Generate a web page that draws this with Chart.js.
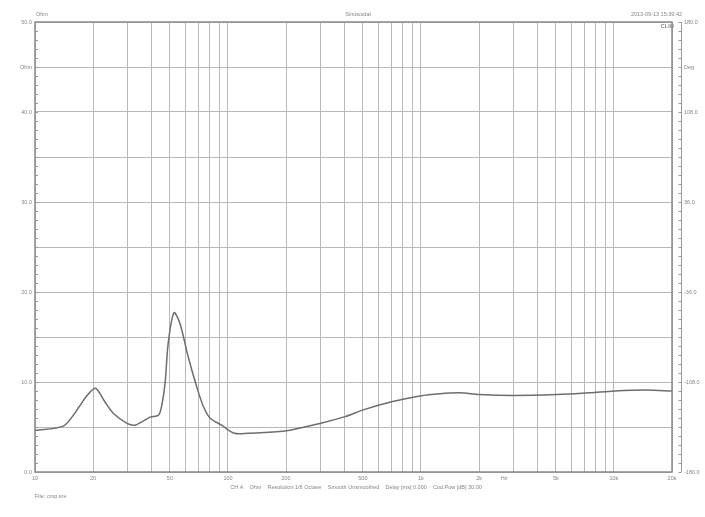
<!DOCTYPE html>
<html>
<head>
<meta charset="utf-8">
<script src="https://cdn.jsdelivr.net/npm/chart.js@4.4.0/dist/chart.umd.min.js"></script>
<style>
  body { margin: 0; background: #fff; }
  #wrap { width: 705px; height: 517px; }
</style>
</head>
<body>
<div id="wrap"><canvas id="impChart" width="705" height="517"></canvas></div>
<script>
// impedance curve (Hz, Ohm)
const freqs = [10, 14, 15.8, 17, 18.8, 20.6, 23, 25.5, 30, 33, 36, 39.5, 43.6, 45.3, 47.2, 49, 52.5, 56.4, 62.2, 68.8, 74.5, 80.7, 92.7, 108, 127, 197, 300, 404, 502, 705, 988, 1253, 1592, 2005, 3006, 5044, 7510, 10100, 14760, 20000];
const ohms  = [4.6, 5.1, 6.3, 7.3, 8.6, 9.3, 7.8, 6.5, 5.4, 5.2, 5.6, 6.1, 6.3, 7.3, 9.85, 14.3, 17.7, 16.5, 12.8, 9.5, 7.3, 6.0, 5.2, 4.3, 4.3, 4.55, 5.4, 6.15, 6.9, 7.8, 8.45, 8.7, 8.8, 8.6, 8.5, 8.6, 8.8, 9.0, 9.1, 9.0];

const gridFreqs = [10, 20, 30, 40, 50, 60, 70, 80, 90, 100, 200, 300, 400, 500, 600, 700, 800, 900,
  1000, 2000, 2700, 3000, 4000, 5000, 6000, 7000, 8000, 9000, 10000, 20000];
const freqLabels = { 10: '10', 20: '20', 50: '50', 100: '100', 200: '200', 500: '500',
  1000: '1k', 2000: '2k', 2700: 'Hz', 5000: '5k', 10000: '10k', 20000: '20k' };
const ohmTicks = [0, 5, 10, 15, 20, 25, 30, 35, 40, 45, 50];
const degTicks = [-180, -108, -36, 36, 108, 144, 180];

const txtColor = '#858585';
const gridColor = '#b8b8b8';
const tickFont = { family: 'Liberation Sans', size: 5.5 };

const decor = {
  id: 'decor',
  afterDraw(chart) {
    const { ctx, chartArea: a } = chart;
    const y = chart.scales.y, y2 = chart.scales.y2;
    ctx.save();
    ctx.strokeStyle = '#8a8a8a';
    ctx.lineWidth = 1.5;
    ctx.strokeRect(a.left, a.top, a.right - a.left, a.bottom - a.top);

    // minor ticks on the Ohm axis
    ctx.lineWidth = 1;
    ctx.strokeStyle = '#999';
    ctx.beginPath();
    for (let v = 0; v <= 50; v++) {
      const py = Math.round(y.getPixelForValue(v)) + 0.5;
      ctx.moveTo(a.left, py);
      ctx.lineTo(a.left + 3, py);
    }
    // phase axis, offset to the right of the frame
    const ax = a.right + 9.5;
    ctx.moveTo(ax, a.top);
    ctx.lineTo(ax, a.bottom);
    for (let i = 0; i <= 50; i++) {
      const py = Math.round(y2.getPixelForValue(-180 + i * 7.2)) + 0.5;
      ctx.moveTo(ax - 3, py);
      ctx.lineTo(ax, py);
    }
    ctx.stroke();

    ctx.fillStyle = txtColor;
    ctx.font = '5.5px "Liberation Sans"';
    ctx.textBaseline = 'middle';
    ctx.textAlign = 'left';
    ctx.fillText('Ohm', 36, 14);
    ctx.fillText('File: cmp.sre', 35, 496);
    ctx.textAlign = 'center';
    ctx.fillText('Sinusoidal', 358, 14);
    ctx.fillText('CH A    Ohm    Resolution 1/6 Octave    Smooth Unsmoothed    Delay [ms] 0.000    Cod.Pow [dB] 30.00', 356, 487);
    ctx.textAlign = 'right';
    ctx.fillText('2013-09-13 15:39:42', 682, 14);
    ctx.font = 'bold 5.5px "Liberation Sans"';
    ctx.fillText('CLIO', 674, 26);
    ctx.restore();
  }
};

new Chart(document.getElementById('impChart'), {
  type: 'line',
  data: {
    datasets: [{
      data: freqs.map((f, i) => ({ x: f, y: ohms[i] })),
      borderColor: '#6e6e6e',
      borderWidth: 1.5,
      pointRadius: 0,
      tension: 0.3,
      fill: false
    }]
  },
  options: {
    responsive: false,
    animation: false,
    layout: { padding: { top: 22 } },
    plugins: { legend: { display: false }, tooltip: { enabled: false } },
    scales: {
      x: {
        type: 'logarithmic',
        min: 10,
        max: 20000,
        afterBuildTicks: s => { s.ticks = gridFreqs.map(v => ({ value: v })); },
        afterFit: s => { s.height = 45; },
        ticks: {
          autoSkip: false,
          maxRotation: 0,
          padding: 3,
          color: txtColor,
          font: tickFont,
          callback: v => freqLabels[v] || ''
        },
        grid: {
          drawTicks: false,
          color: c => (c.tick && c.tick.value === 2700) ? 'rgba(0,0,0,0)' : gridColor
        },
        border: { display: false }
      },
      y: {
        position: 'left',
        min: 0,
        max: 50,
        afterBuildTicks: s => { s.ticks = ohmTicks.map(v => ({ value: v })); },
        afterFit: s => { s.width = 35; },
        ticks: {
          padding: 3,
          color: txtColor,
          font: tickFont,
          callback: v => v % 10 === 0 ? v.toFixed(1) : (v === 45 ? 'Ohm' : '')
        },
        grid: { drawTicks: false, color: gridColor },
        border: { display: false }
      },
      y2: {
        position: 'right',
        min: -180,
        max: 180,
        afterBuildTicks: s => { s.ticks = degTicks.map(v => ({ value: v })); },
        afterFit: s => { s.width = 33; },
        ticks: {
          padding: 12,
          color: txtColor,
          font: tickFont,
          callback: v => v === 144 ? 'Deg' : v.toFixed(1)
        },
        grid: { drawOnChartArea: false, drawTicks: false },
        border: { display: false }
      }
    }
  },
  plugins: [decor]
});
</script>
</body>
</html>
